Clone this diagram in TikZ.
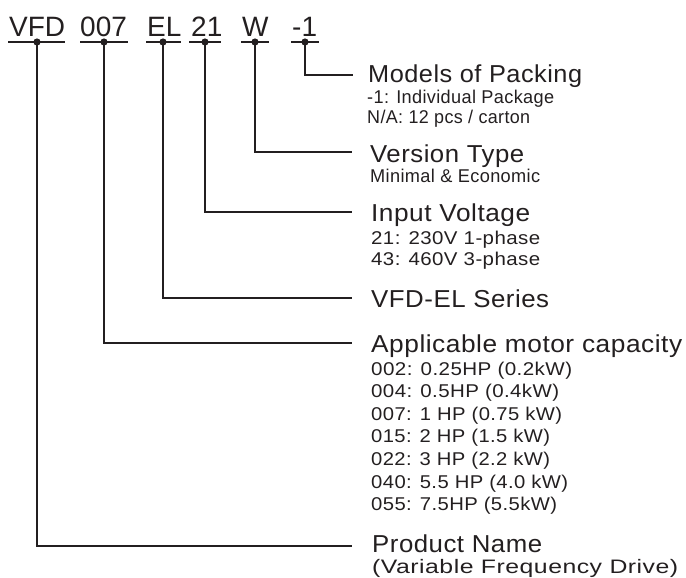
\documentclass[tikz,border=0pt]{standalone}
\usepackage{fontspec}
\usepackage{graphicx}
\setmainfont{Liberation Sans}
\newfontfamily\headfont[LetterSpace=2]{Liberation Sans}
\newfontfamily\subfont[LetterSpace=2]{Liberation Sans}
\definecolor{ink}{HTML}{231F20}
\newcommand\fw[2]{\resizebox{#1pt}{\height}{#2}}
\tikzset{
  code/.style={anchor=base west, inner sep=0pt, text=ink, font=\fontsize{28}{28}\selectfont},
  head/.style={anchor=base west, inner sep=0pt, text=ink, font=\headfont\fontsize{24.5}{24.5}\selectfont},
  sub/.style={anchor=base west, inner sep=0pt, text=ink, font=\subfont\fontsize{18.5}{18.5}\selectfont},
  subb/.style={anchor=base west, inner sep=0pt, text=ink, font=\subfont\fontsize{19.5}{19.5}\selectfont},
  uline/.style={draw=ink, line width=2pt},
  conn/.style={draw=ink, line width=2.3pt},
  dotc/.style={fill=ink}
}
\begin{document}
\begin{tikzpicture}[x=1pt,y=-1pt]
\useasboundingbox (0,0) rectangle (686,578);
% code letters
\node[code] (cVFD) at (9,37) {VFD};
\node[code] (c007) at (80,37) {007};
\node[code] (cEL) at (147,37) {EL};
\node[code] (c21) at (191,37) {21};
\node[code] (cW) at (242,37) {W};
\node[code] (cP) at (292,37) {-1};
% underlines
\draw[uline] (8,42) -- (65,42);
\draw[uline] (80,42) -- (128,42);
\draw[uline] (146,42) -- (181,42);
\draw[uline] (189,42) -- (221,42);
\draw[uline] (241,42) -- (269,42);
\draw[uline] (291,42) -- (319,42);
% dots
\coordinate (dVFD) at (37,42);
\coordinate (d007) at (104,42);
\coordinate (dEL) at (163,42);
\coordinate (d21) at (205,42);
\coordinate (dW) at (255,42);
\coordinate (dP) at (305,42);
\foreach \d in {dVFD,d007,dEL,d21,dW,dP} \fill[dotc] (\d) circle (3.6);
% connector ends
\coordinate (eP) at (353,75);
\coordinate (eW) at (352,152);
\coordinate (e21) at (352,212);
\coordinate (eEL) at (352,298);
\coordinate (e007) at (352,343);
\coordinate (eVFD) at (352,546);
\draw[conn] (dP) |- (eP);
\draw[conn] (dW) |- (eW);
\draw[conn] (d21) |- (e21);
\draw[conn] (dEL) |- (eEL);
\draw[conn] (d007) |- (e007);
\draw[conn] (dVFD) |- (eVFD);
% texts
\node[head] (hP) at (368,82) {\fw{214}{Models of Packing}};
\node[sub] (sP1) at (367,103) {\fw{187}{-1: Individual Package}};
\node[sub] (sP2) at (367,123) {\fw{163}{N/A: 12 pcs / carton}};
\node[head] (hW) at (370,162) {\fw{154}{Version Type}};
\node[sub] (sW1) at (370,182) {\fw{170}{Minimal \& Economic}};
\node[head] (h21) at (371,221) {\fw{159}{Input Voltage}};
\node[sub] (s211) at (371,244) {\fw{169}{21: 230V 1-phase}};
\node[sub] (s212) at (371,265) {\fw{169}{43: 460V 3-phase}};
\node[head] (hEL) at (371,307) {\fw{178}{VFD-EL Series}};
\node[head] (h007) at (371,352) {\fw{311}{Applicable motor capacity}};
\node[sub] (m1) at (371,375) {\fw{201}{002: 0.25HP (0.2kW)}};
\node[sub] (m2) at (371,397.6) {\fw{188}{004: 0.5HP (0.4kW)}};
\node[sub] (m3) at (371,420.2) {\fw{191}{007: 1 HP (0.75 kW)}};
\node[sub] (m4) at (371,442.8) {\fw{179}{015: 2 HP (1.5 kW)}};
\node[sub] (m5) at (371,465.4) {\fw{179}{022: 3 HP (2.2 kW)}};
\node[sub] (m6) at (371,488) {\fw{197}{040: 5.5 HP (4.0 kW)}};
\node[sub] (m7) at (371,510.7) {\fw{186}{055: 7.5HP (5.5kW)}};
\node[head] (hVFD) at (372,552) {\fw{170}{Product Name}};
\node[subb] (sVFD) at (372,573) {\fw{306}{(Variable Frequency Drive)}};
\end{tikzpicture}
\end{document}
